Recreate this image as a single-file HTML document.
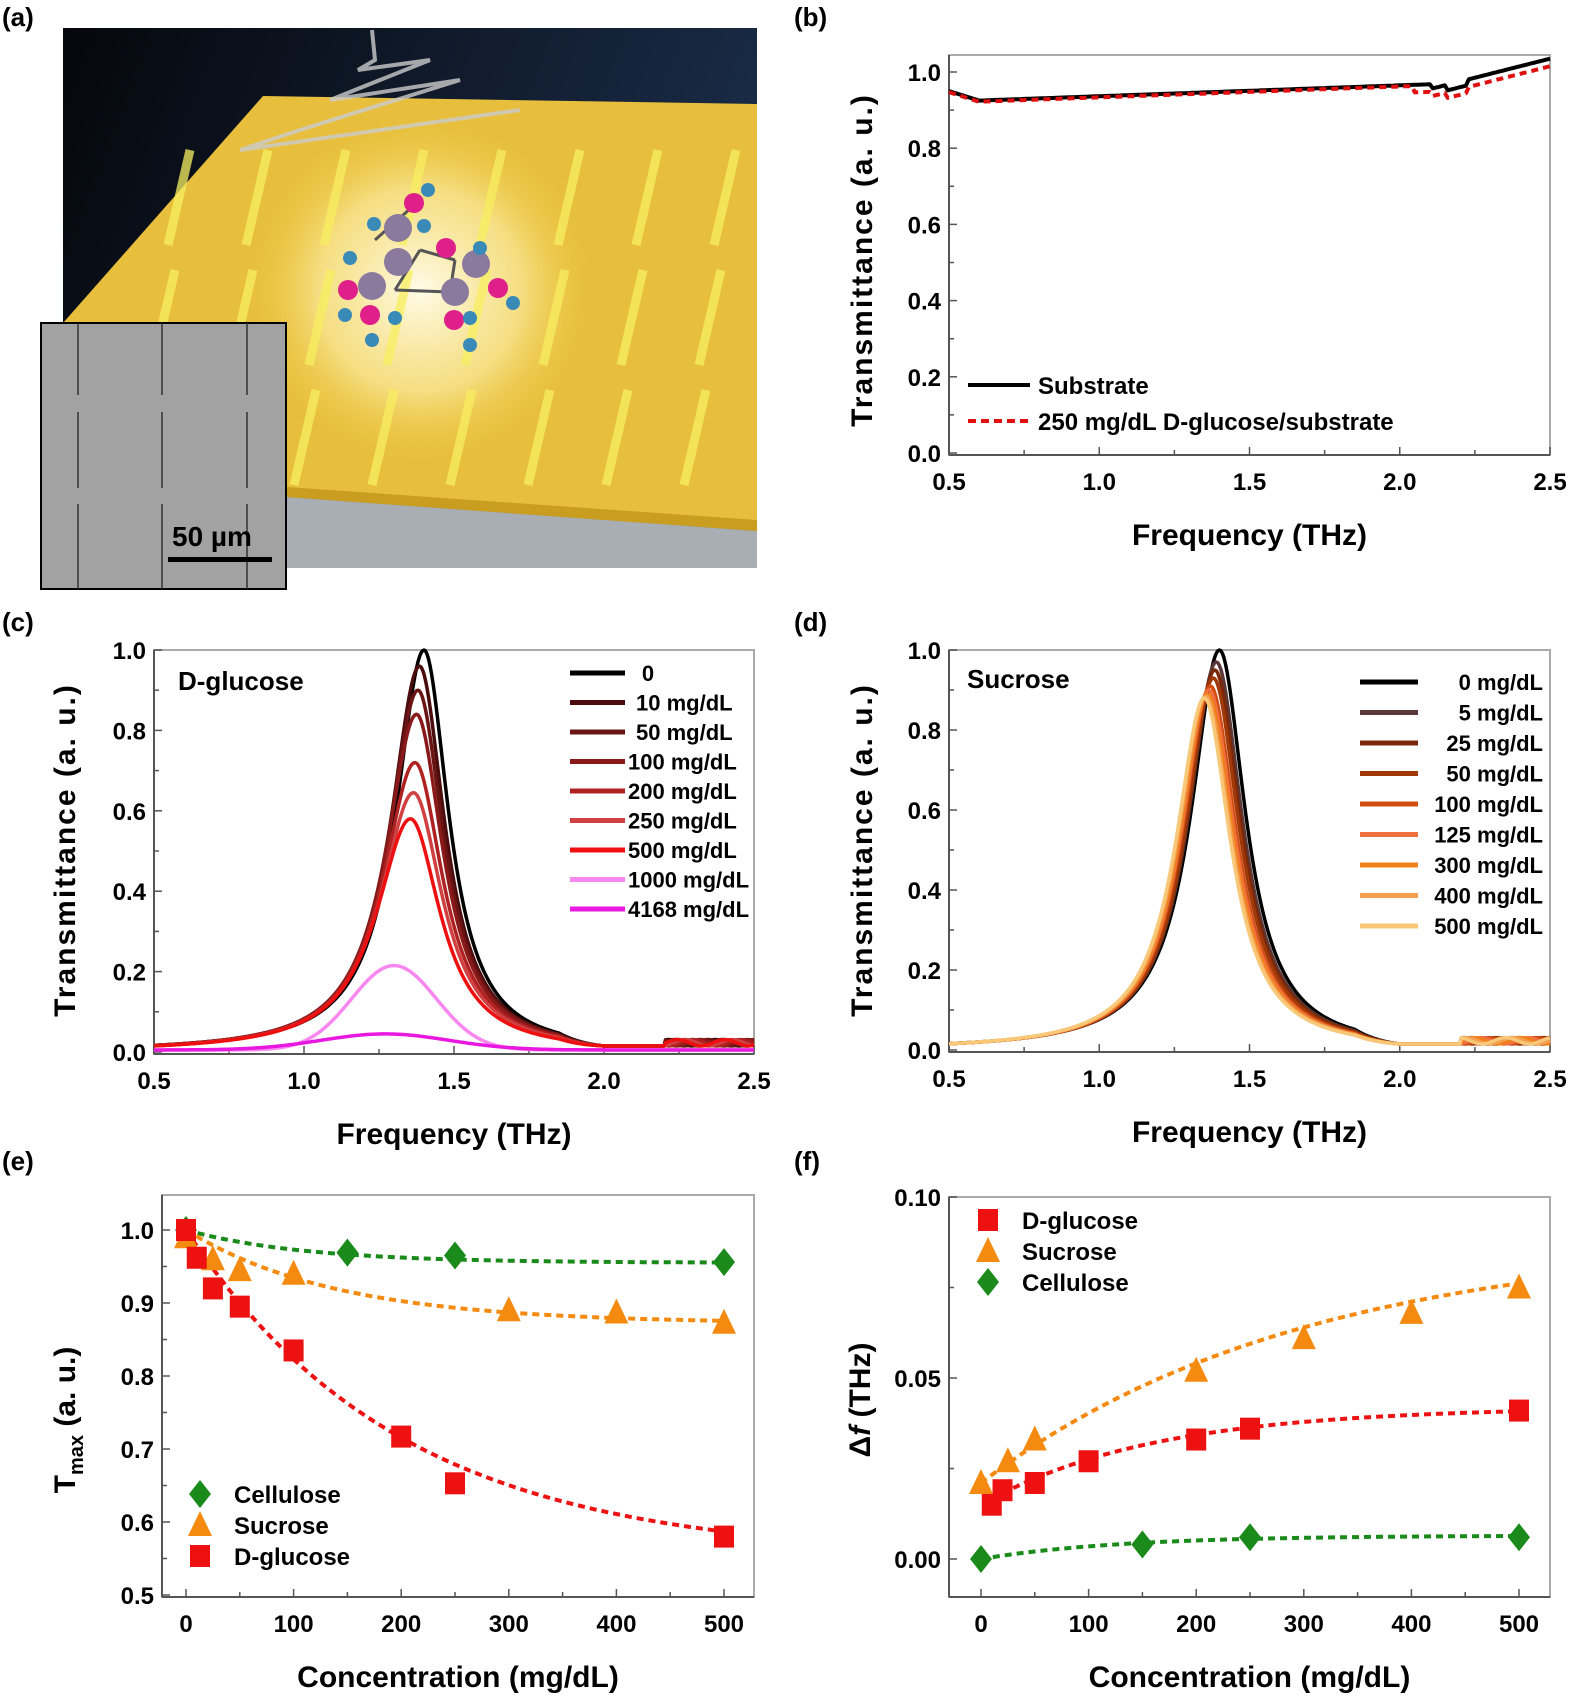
<!DOCTYPE html>
<html><head><meta charset="utf-8"><style>
html,body{margin:0;padding:0;background:#fff}
svg{display:block}
text{font-family:"Liberation Sans",Arial,sans-serif;font-weight:bold;fill:#000}
</style></head><body>
<svg id="s" width="1575" height="1696" viewBox="0 0 1575 1696" xmlns="http://www.w3.org/2000/svg">
<defs>
<linearGradient id="sky" x1="0" y1="0" x2="1" y2="0.3"><stop offset="0" stop-color="#05070c"/><stop offset="1" stop-color="#1a2c48"/></linearGradient>
<radialGradient id="glow" cx="0.5" cy="0.5" r="0.5"><stop offset="0" stop-color="#fffbe8" stop-opacity="1"/><stop offset="0.6" stop-color="#fff2b0" stop-opacity="0.6"/><stop offset="1" stop-color="#f5d24a" stop-opacity="0"/></radialGradient>
</defs>
<rect x="63" y="28" width="694" height="540" fill="url(#sky)"/>
<polygon points="63,568 63,500 287,497 757,531 757,568" fill="#a9adb4"/>
<polygon points="263,96 757,104 757,531 287,497 63,480 63,323" fill="#e7bf3c"/>
<polygon points="63,480 287,497 757,531 757,520 287,487 63,470" fill="#c99e20"/>
<ellipse cx="420" cy="290" rx="170" ry="170" fill="url(#glow)"/>
<g id="bars" stroke="#f8ef60" stroke-width="9" opacity="0.75"></g>
<path d="M372,30 L375,60 L358,70 L430,60 L330,100 L460,80 L300,130 L240,150 L520,110" stroke="#ccc" stroke-width="4" fill="none" opacity="0.8"/>
<g id="mol"></g>
<rect x="41" y="323" width="245" height="266" fill="#a2a2a2" stroke="#000" stroke-width="2"/>
<g stroke="#333" stroke-width="1.5"><line x1="78" y1="323" x2="78" y2="589"/><line x1="162" y1="323" x2="162" y2="589"/><line x1="247" y1="323" x2="247" y2="589"/></g>
<g stroke="#a2a2a2" stroke-width="6"><line x1="78" y1="395" x2="78" y2="412"/><line x1="162" y1="395" x2="162" y2="412"/><line x1="247" y1="395" x2="247" y2="412"/><line x1="78" y1="488" x2="78" y2="504"/><line x1="162" y1="488" x2="162" y2="504"/><line x1="247" y1="488" x2="247" y2="504"/></g>
<text x="172" y="546" font-size="28">50 µm</text>
<rect x="168" y="557" width="104" height="5" fill="#000"/>
<text x="2" y="26" font-size="26">(a)</text>
<text x="794" y="26" font-size="26">(b)</text>
<text x="2" y="631" font-size="26">(c)</text>
<text x="794" y="631" font-size="26">(d)</text>
<text x="2" y="1170" font-size="26">(e)</text>
<text x="794" y="1170" font-size="26">(f)</text>
<g id="plots"></g>
</svg>
<script>
const NS="http://www.w3.org/2000/svg";
const P=document.getElementById('plots');
function el(t,a,p){const e=document.createElementNS(NS,t);for(const k in a)e.setAttribute(k,a[k]);(p||P).appendChild(e);return e;}
function txt(x,y,s,sz,anch,extra){const e=el('text',Object.assign({x:x,y:y,'font-size':sz,'text-anchor':anch||'start'},extra||{}));e.textContent=s;return e;}
function sq(v){return v*v;}
const BB=document.getElementById('bars');
for(let r=0;r<3;r++)for(let c=0;c<8;c++){const x=190+c*78-r*15, y=150+r*120; if(x<80||x>755)continue;
 el('line',{x1:x,y1:y,x2:x-22,y2:y+95},BB);}
const MM=document.getElementById('mol');
[[375,240,420,200],[420,250,395,290],[420,250,455,260],[455,260,450,292],[395,290,450,292]].forEach(b=>el('line',{x1:b[0],y1:b[1],x2:b[2],y2:b[3],stroke:'#555','stroke-width':3},MM));
[[398,228,14,'#8a7a9e'],[398,262,14,'#8a7a9e'],[372,286,14,'#8a7a9e'],[455,292,14,'#8a7a9e'],[476,264,14,'#8a7a9e'],[414,203,10,'#e0208a'],[446,248,10,'#e0208a'],[348,290,10,'#e0208a'],[370,315,10,'#e0208a'],[454,320,10,'#e0208a'],[498,288,10,'#e0208a'],[428,190,7,'#3a8ab8'],[374,224,7,'#3a8ab8'],[424,226,7,'#3a8ab8'],[350,258,7,'#3a8ab8'],[480,248,7,'#3a8ab8'],[345,315,7,'#3a8ab8'],[395,318,7,'#3a8ab8'],[470,318,7,'#3a8ab8'],[513,303,7,'#3a8ab8'],[372,340,7,'#3a8ab8'],[470,345,7,'#3a8ab8']].forEach(a=>el('circle',{cx:a[0],cy:a[1],r:a[2],fill:a[3]},MM));

function axes(o){
 const L=o.L,Rr=o.R,T=o.T,Bt=o.Bt,x0=o.x0,x1=o.x1,y0=o.y0,y1=o.y1,xmin=o.xmin,xmax=o.xmax,ymin=o.ymin,ymax=o.ymax;
 el('rect',{x:L,y:T,width:Rr-L,height:Bt-T,fill:'none',stroke:'#aaa','stroke-width':2});
 el('line',{x1:L,y1:Bt,x2:Rr,y2:Bt,stroke:'#555','stroke-width':2});
 el('line',{x1:L,y1:T,x2:L,y2:Bt,stroke:'#555','stroke-width':2});
 const X=v=>x0+(v-xmin)/(xmax-xmin)*(x1-x0), Y=v=>y0+(v-ymin)/(ymax-ymin)*(y1-y0);
 o.xv.forEach((v,i)=>{el('line',{x1:X(v),y1:Bt,x2:X(v),y2:Bt-8,stroke:'#555','stroke-width':1.5});txt(X(v),Bt+35,o.xf(v),24,'middle');
   if(i<o.xv.length-1){const m=(v+o.xv[i+1])/2;el('line',{x1:X(m),y1:Bt,x2:X(m),y2:Bt-5,stroke:'#555','stroke-width':1.5});}});
 o.yv.forEach((v,i)=>{el('line',{x1:L,y1:Y(v),x2:L+8,y2:Y(v),stroke:'#555','stroke-width':1.5});txt(L-8,Y(v)+9,o.yf(v),24,'end');
   if(i<o.yv.length-1){const m=(v+o.yv[i+1])/2;el('line',{x1:L,y1:Y(m),x2:L+5,y2:Y(m),stroke:'#555','stroke-width':1.5});}});
 txt((L+Rr)/2,Bt+90,o.xlab,30,'middle');
 return {X:X,Y:Y};
}
function path(pts,X,Y,a){return el('path',Object.assign({d:pts.map((p,i)=>(i?'L':'M')+X(p[0]).toFixed(1)+','+Y(p[1]).toFixed(1)).join(''),fill:'none','stroke-linejoin':'round'},a));}
function ylabel(x,y,s,sz){return txt(0,0,s,sz||30,'middle',{transform:'translate('+x+','+y+') rotate(-90)','letter-spacing':'2'});}

(function(){const A=axes({L:949,R:1550,T:55,Bt:455,x0:949,x1:1550,y0:453,y1:72,xmin:.5,xmax:2.5,ymin:0,ymax:1,xv:[.5,1,1.5,2,2.5],yv:[0,.2,.4,.6,.8,1],xf:v=>v.toFixed(1),yf:v=>v.toFixed(1),xlab:'Frequency (THz)'});
 ylabel(872,260,'Transmittance (a. u.)');
 const s=[],d=[];for(let f=.5;f<=2.501;f+=.01){let v=.925+.04*(f-.6)/1.4; if(f<.6)v=.95-.25*(f-.5); if(f>2.1)v=.955+(f-2.1)*.2; if(f>2.15&&f<2.22)v-=.015; s.push([f,v]); d.push([f,f>2.05?v-.02:v-.003]);}
 path(s,A.X,A.Y,{stroke:'#000','stroke-width':4});path(d,A.X,A.Y,{stroke:'#e01010','stroke-width':4,'stroke-dasharray':'7,5'});
 el('line',{x1:968,y1:385,x2:1030,y2:385,stroke:'#000','stroke-width':4});txt(1038,394,'Substrate',24);
 el('line',{x1:968,y1:421,x2:1030,y2:421,stroke:'#e01010','stroke-width':4,'stroke-dasharray':'8,5'});txt(1038,430,'250 mg/dL D-glucose/substrate',24);
})();
function lor(f,f0,A,gl,gr,base){const g=f<f0?gl:gr;return base+(A-base)/(1+sq((f-f0)/g));}
function tail(f,v,i){if(f<1.85)return v;const t=.015+(f>2.2?.008*(1+Math.sin(f*40+i)):0);if(f>=2)return t;const w=(f-1.85)/.15;return v*(1-w)+t*w;}
(function(){const A=axes({L:154,R:754,T:650,Bt:1054,x0:154,x1:754,y0:1052,y1:650,xmin:.5,xmax:2.5,ymin:0,ymax:1,xv:[.5,1,1.5,2,2.5],yv:[0,.2,.4,.6,.8,1],xf:v=>v.toFixed(1),yf:v=>v.toFixed(1),xlab:'Frequency (THz)'});
 ylabel(75,850,'Transmittance (a. u.)');
 txt(178,690,'D-glucose',26);
 const C=[['0','#000',1,1.40],['10 mg/dL','#4a0c0c',.96,1.385],['50 mg/dL','#6a1414',.90,1.38],['100 mg/dL','#8a1a1a',.84,1.375],['200 mg/dL','#b02222',.72,1.37],['250 mg/dL','#d04040',.645,1.365],['500 mg/dL','#ee1010',.58,1.355],['1000 mg/dL','#f888f0',.21,1.30],['4168 mg/dL','#e818e0',.04,1.27]];
 C.forEach((c,i)=>{const pts=[];const w=1+(1-c[2])*.5;for(let f=.5;f<=2.5;f+=.005){let v=lor(f,c[3],c[2],.115*w,.1*w,0); if(c[2]<.3){const wd=c[2]>.1?.2:.3;v=c[2]*Math.exp(-sq((f-c[3])/wd))+.005;} else v=tail(f,v,i);pts.push([f,v]);}
  path(pts,A.X,A.Y,{stroke:c[1],'stroke-width':3.5});
  const ly=673+i*29.5;el('line',{x1:570,y1:ly,x2:625,y2:ly,stroke:c[1],'stroke-width':5});txt(c[0]=='0'?648:(i<3?636:628),ly+8,c[0],22,c[0]=='0'?'middle':'start');});
})();
(function(){const A=axes({L:949,R:1550,T:650,Bt:1052,x0:949,x1:1550,y0:1050,y1:650,xmin:.5,xmax:2.5,ymin:0,ymax:1,xv:[.5,1,1.5,2,2.5],yv:[0,.2,.4,.6,.8,1],xf:v=>v.toFixed(1),yf:v=>v.toFixed(1),xlab:'Frequency (THz)'});
 ylabel(872,850,'Transmittance (a. u.)');
 txt(967,688,'Sucrose',26);
 const C=[['0 mg/dL','#000',1,1.40],['5 mg/dL','#5a3838',.97,1.39],['25 mg/dL','#7a2808',.95,1.385],['50 mg/dL','#a03808',.93,1.38],['100 mg/dL','#d04c10',.91,1.37],['125 mg/dL','#f07040',.90,1.365],['300 mg/dL','#f08018',.89,1.36],['400 mg/dL','#f4a050',.885,1.355],['500 mg/dL','#f8c878',.88,1.35]];
 C.forEach((c,i)=>{const pts=[];for(let f=.5;f<=2.5;f+=.005){let v=lor(f,c[3],c[2],.115,.105,0);v=tail(f,v,i);pts.push([f,v]);}
  path(pts,A.X,A.Y,{stroke:c[1],'stroke-width':3.5});
  const ly=682+i*30.5;el('line',{x1:1360,y1:ly,x2:1418,y2:ly,stroke:c[1],'stroke-width':5});txt(1543,ly+8,c[0],22,'end');});
})();
function mk(type,x,y,col){if(type=='s')el('rect',{x:x-10,y:y-11,width:20,height:22,fill:col});
 else if(type=='t')el('polygon',{points:x+','+(y-14)+' '+(x+12)+','+(y+11)+' '+(x-12)+','+(y+11),fill:col});
 else el('polygon',{points:x+','+(y-14)+' '+(x+11)+','+y+' '+x+','+(y+14)+' '+(x-11)+','+y,fill:col});}
function fit(pts,X,Y,col){path(pts,X,Y,{stroke:col,'stroke-width':4,'stroke-dasharray':'7,5'});}
const CR='#ee1111',CO='#f58a10',CG='#1a8a1a';
(function(){const A=axes({L:162,R:754,T:1195,Bt:1597,x0:186,x1:724,y0:1595,y1:1230,xmin:0,xmax:500,ymin:.5,ymax:1,xv:[0,100,200,300,400,500],yv:[.5,.6,.7,.8,.9,1],xf:v=>String(v),yf:v=>v.toFixed(1),xlab:'Concentration (mg/dL)'});
 const X=A.X,Y=A.Y;
 const t=txt(0,0,'',30,'middle',{transform:'translate(75,1420) rotate(-90)'});
 const s1=el('tspan',{},t);s1.textContent='T';const s2=el('tspan',{'font-size':20,dy:8},t);s2.textContent='max';const s3=el('tspan',{dy:-8},t);s3.textContent=' (a. u.)';
 const fc=[],fs=[],fg=[];for(let c=0;c<=500;c+=5){fc.push([c,.955+.045*Math.exp(-c/110)]);fs.push([c,.872+.128*Math.exp(-c/140)]);fg.push([c,.55+.45*Math.exp(-c/200)]);}
 fit(fc,X,Y,CG);fit(fs,X,Y,CO);fit(fg,X,Y,CR);
 [[0,1],[150,.969],[250,.965],[500,.956]].forEach(p=>mk('d',X(p[0]),Y(p[1]),CG));
 [[0,.99],[25,.96],[50,.945],[100,.94],[300,.89],[400,.887],[500,.873]].forEach(p=>mk('t',X(p[0]),Y(p[1]),CO));
 [[0,1],[10,.962],[25,.92],[50,.895],[100,.835],[200,.717],[250,.653],[500,.58]].forEach(p=>mk('s',X(p[0]),Y(p[1]),CR));
 mk('d',200,1494,CG);txt(234,1503,'Cellulose',24);mk('t',200,1525,CO);txt(234,1534,'Sucrose',24);mk('s',200,1556,CR);txt(234,1565,'D-glucose',24);
})();
(function(){const A=axes({L:949,R:1550,T:1197,Bt:1597,x0:981,x1:1519,y0:1559,y1:1197,xmin:0,xmax:500,ymin:0,ymax:.1,xv:[0,100,200,300,400,500],yv:[0,.05,.1],xf:v=>String(v),yf:v=>v.toFixed(2),xlab:'Concentration (mg/dL)'});
 const X=A.X,Y=A.Y;
 const t=txt(0,0,'',30,'middle',{transform:'translate(870,1400) rotate(-90)'});
 const s1=el('tspan',{},t);s1.textContent='Δ';const s2=el('tspan',{'font-style':'italic'},t);s2.textContent='f';const s3=el('tspan',{},t);s3.textContent=' (THz)';
 const fg=[],fs=[],fc=[];for(let c=0;c<=500;c+=5){fg.push([c,.015+.027*(1-Math.exp(-c/160))]);fs.push([c,.021+.068*(1-Math.exp(-c/300))]);fc.push([c,.0065*(1-Math.exp(-c/130))]);}
 fit(fs,X,Y,CO);fit(fg.filter(p=>p[0]>=10),X,Y,CR);fit(fc,X,Y,CG);
 [[10,.015],[20,.019],[50,.021],[100,.027],[200,.033],[250,.036],[500,.041]].forEach(p=>mk('s',X(p[0]),Y(p[1]),CR));
 [[0,.021],[25,.027],[50,.033],[200,.052],[300,.061],[400,.068],[500,.075]].forEach(p=>mk('t',X(p[0]),Y(p[1]),CO));
 [[0,0],[150,.004],[250,.006],[500,.006]].forEach(p=>mk('d',X(p[0]),Y(p[1]),CG));
 mk('s',988,1220,CR);txt(1022,1229,'D-glucose',24);mk('t',988,1251,CO);txt(1022,1260,'Sucrose',24);mk('d',988,1282,CG);txt(1022,1291,'Cellulose',24);
})();
</script>
</body></html>
